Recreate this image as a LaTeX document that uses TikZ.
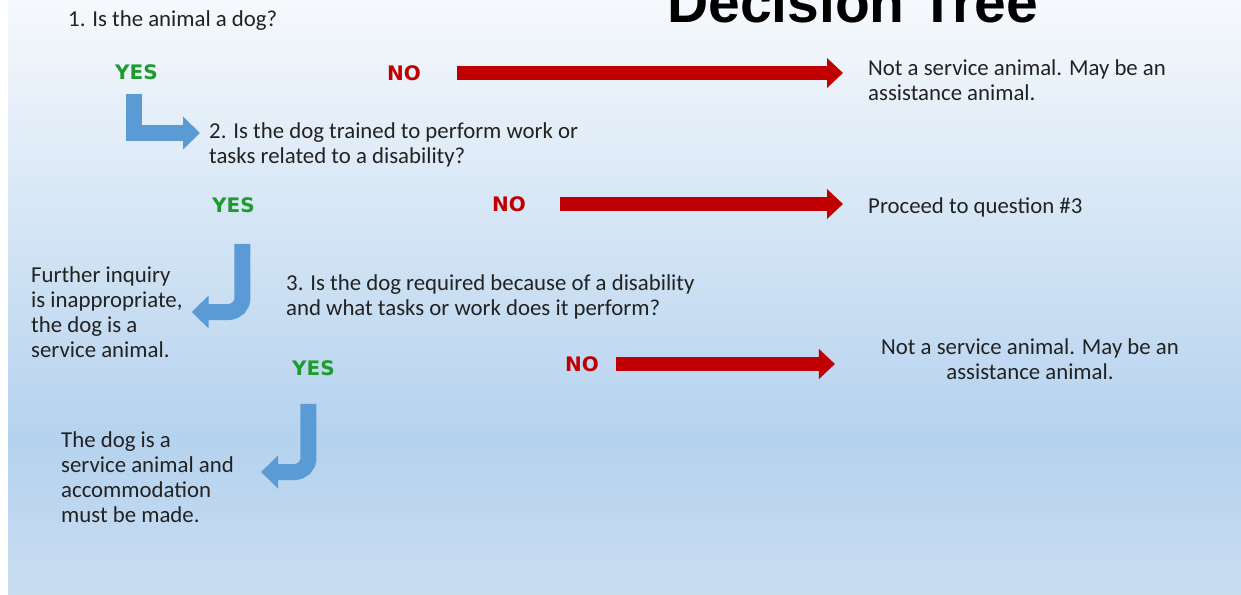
\documentclass[tikz,border=0pt]{standalone}
\usepackage{fontspec}
\setmainfont{Carlito}
\newfontfamily\titlefont{Liberation Sans}
\newfontfamily\markfont{DejaVu Sans}
\usetikzlibrary{arrows.meta}

\definecolor{textgray}{HTML}{222222}
\definecolor{yesgreen}{HTML}{1E9B2E}
\definecolor{nored}{HTML}{C00000}
\definecolor{yesblue}{HTML}{5B9BD5}
\definecolor{bgtop}{HTML}{F6F9FC}
\definecolor{bgmid}{HTML}{B5D2EE}
\definecolor{bgbot}{HTML}{C9DDF1}

\tikzset{
  txt/.style={inner sep=0pt, anchor=west, align=left, text=textgray,
    font=\fontsize{22.8}{25}\selectfont},
  yesmark/.style={inner sep=0pt, anchor=west, text=yesgreen,
    font=\markfont\bfseries\fontsize{20}{24}\selectfont},
  nomark/.style={inner sep=0pt, anchor=west, text=nored,
    font=\markfont\bfseries\fontsize{20}{24}\selectfont},
  noarrow/.style={draw=nored, line width=14pt, -{Triangle[length=16pt,width=29pt]}},
  yesarrow/.style={draw=yesblue, line width=16pt, line join=miter,
    -{Triangle[length=17pt,width=32pt]}}
}

\begin{document}
\begin{tikzpicture}[x=1pt,y=-1pt]

    % Page and background
    \clip (0,0) rectangle (1241,594);
    \fill[white] (0,0) rectangle (1241,594);
    \shade[top color=bgtop, bottom color=bgmid] (8,0) rectangle (1241,440);
    \shade[top color=bgmid, bottom color=bgbot] (8,440) rectangle (1241,594);

    % Title (cut at the top)
    \node[anchor=base west, inner sep=0pt, font=\titlefont\bfseries\fontsize{57}{60}\selectfont] (title) at (667,23) {Decision Tree};

    % Question 1
    \node[txt] (q1) at (68,21) {1. Is the animal a dog?};
    \node[yesmark] (yes1) at (115,72) {YES};
    \node[nomark] (no1) at (387,73) {NO};
    \node[txt] (ans1) at (868,80) {Not a service animal. May be an\\assistance animal.};

    % Question 2
    \node[txt] (q2) at (209,145) {2. Is the dog trained to perform work or\\tasks related to a disability?};
    \node[yesmark] (yes2) at (212,205) {YES};
    \node[nomark] (no2) at (492,204) {NO};
    \node[txt] (ans2) at (868,207) {Proceed to question \#3};
    \node[txt] (inq) at (31,312) {Further inquiry\\is inappropriate,\\the dog is a\\service animal.};

    % Question 3
    \node[txt] (q3) at (286,297) {3. Is the dog required because of a disability\\and what tasks or work does it perform?};
    \node[yesmark] (yes3) at (292,368) {YES};
    \node[nomark] (no3) at (565,364) {NO};
    \node[txt, anchor=center, align=center] (ans3) at (1030,359) {Not a service animal. May be an\\assistance animal.};
    \node[txt] (fin) at (61,477) {The dog is a\\service animal and\\accommodation\\must be made.};

    % NO arrows
    \draw[noarrow] ([xshift=36]no1.east) -- ([xshift=-25]no1.east -| ans1.west);
    \draw[noarrow] ([xshift=34]no2.east) -- ([xshift=-25]no2.east -| ans2.west);
    \draw[noarrow] ([xshift=17]no3.east) -- ([xshift=-46]no3.east -| ans3.west);

    % YES arrows
    \draw[yesarrow] ([xshift=-2,yshift=-14]yes1.south) |- ([xshift=-9,yshift=12]q2.west);
    \draw[yesarrow, rounded corners=14pt] ([xshift=9,yshift=-31]yes2.south) |- ([xshift=9]inq.east);
    \draw[yesarrow, rounded corners=14pt] ([xshift=-5,yshift=-28]yes3.south) |- ([xshift=27,yshift=5]fin.east);

\end{tikzpicture}
\end{document}
